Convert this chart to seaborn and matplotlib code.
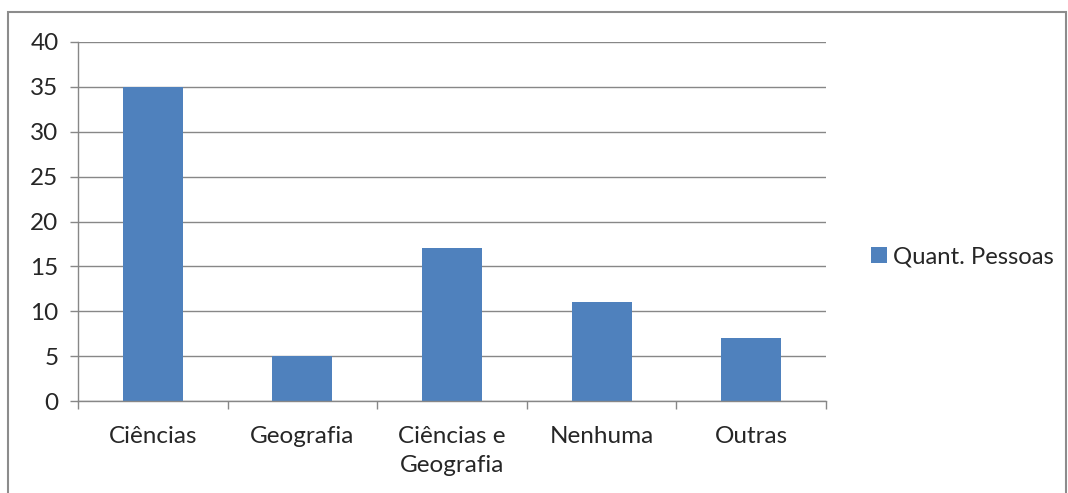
import matplotlib
matplotlib.use("Agg")
import matplotlib.pyplot as plt
import matplotlib.patches as mpatches
from matplotlib.ticker import FixedLocator, MultipleLocator
import seaborn as sns
import pandas as pd

categories = ["Ciências", "Geografia", "Ciências e\nGeografia", "Nenhuma", "Outras"]
values = [35, 5, 17, 11, 7]
series_name = "Quant. Pessoas"

sns.set_theme(style="white")
plt.rcParams["font.family"] = ["Lato", "DejaVu Sans"]

BAR = "#4F81BD"
GRID = "#878787"
TEXT = "#262626"
FS = 17.5

df = pd.DataFrame({"Categoria": categories, "Valor": values, "Série": series_name})

fig = plt.figure(figsize=(10.68, 4.93), dpi=100)
ax = fig.add_axes([78 / 1068, 1 - 401 / 493, (826 - 78) / 1068, (401 - 42) / 493])

sns.barplot(data=df, x="Categoria", y="Valor", hue="Série", palette=[BAR],
            width=0.4, ax=ax, legend=True, saturation=1, linewidth=0)

ax.set_ylim(0, 40)
ax.set_xlim(-0.5, len(categories) - 0.5)
ax.yaxis.set_major_locator(MultipleLocator(5))
ax.grid(axis="y", color=GRID, linewidth=1)
ax.set_axisbelow(True)
ax.set_xlabel("")
ax.set_ylabel("")

for side in ("top", "right"):
    ax.spines[side].set_visible(False)
for side in ("left", "bottom"):
    ax.spines[side].set_color(GRID)
    ax.spines[side].set_linewidth(1)

ax.xaxis.set_minor_locator(FixedLocator([i - 0.5 for i in range(len(categories) + 1)]))
ax.tick_params(axis="x", which="major", length=0, labelsize=FS, labelcolor=TEXT, pad=18)
ax.tick_params(axis="x", which="minor", length=5.5, color=GRID, width=1, direction="out")
ax.tick_params(axis="y", length=5.5, color=GRID, width=1, direction="out",
               labelsize=FS, labelcolor=TEXT, pad=8.5)
ax.tick_params(bottom=True, left=True)
ax.tick_params(axis="x", which="minor", bottom=True)
for lbl in ax.get_xticklabels():
    lbl.set_linespacing(1.45)

handles, labels = ax.get_legend_handles_labels()
ax.get_legend().remove()
fig.legend(handles, labels, loc="center left",
           bbox_to_anchor=(850 / 1068, 1 - 257 / 493), frameon=False,
           fontsize=17.2, handlelength=0.65, handleheight=0.65, handletextpad=0.25,
           labelcolor=TEXT)

# chart-area border
border = mpatches.Rectangle((8 / 1068, -0.05), (1066 - 8) / 1068, 1 - 12 / 493 + 0.05,
                            transform=fig.transFigure, fill=False,
                            edgecolor="#8C8C8C", linewidth=1.5)
fig.patches.append(border)

fig.savefig("out.png", dpi=100)
